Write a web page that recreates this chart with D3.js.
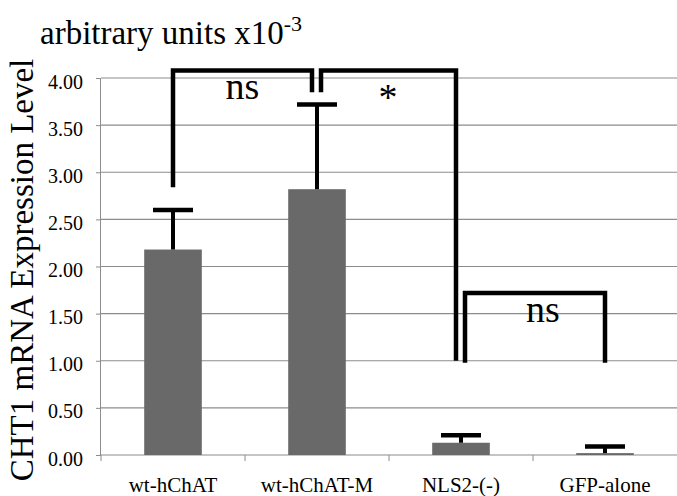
<!DOCTYPE html>
<html>
<head>
<meta charset="utf-8">
<script src="https://cdn.jsdelivr.net/npm/d3@7"></script>
<style>
  body { margin: 0; background: #fff; }
</style>
</head>
<body>
<div id="chart"></div>
<script>
// data
var categories = ["wt-hChAT", "wt-hChAT-M", "NLS2-(-)", "GFP-alone"];
var means = [2.18, 2.82, 0.13, 0.02];
var errors = [0.42, 0.90, 0.08, 0.07];
var yTicks = [0, 0.5, 1, 1.5, 2, 2.5, 3, 3.5, 4];

// significance brackets: from/to category, foot heights, top height, label
var bracketFrom = [0, 1, 2];
var bracketTo = [1, 2, 3];
var bracketLeftFoot = [2.84, 3.85, 0.98];
var bracketRightFoot = [3.85, 1.0, 0.98];
var bracketTop = [4.08, 4.08, 1.72];
var bracketLabels = ["ns", "*", "ns"];

var serif = "font-family:'Liberation Serif','Times New Roman',serif";

var svgWidth = 677;
var svgHeight = 496;
var margin = { top: 78, right: 0, bottom: 41, left: 101 };
var width = svgWidth - margin.left - margin.right;
var height = svgHeight - margin.top - margin.bottom;

var svg = d3.select("#chart")
  .append("svg")
  .attr("width", svgWidth)
  .attr("height", svgHeight);

var chartGroup = svg.append("g")
  .attr("transform", `translate(${margin.left}, ${margin.top})`);

var xScale = d3.scaleBand()
  .domain(categories)
  .range([0, width])
  .paddingInner(0.6)
  .paddingOuter(0.3);

var xBand = d3.scaleBand().domain(categories).range([0, width]);

var yScale = d3.scaleLinear()
  .domain([0, 4])
  .range([height, 0]);

// gridlines
chartGroup.selectAll(".grid")
  .data(yTicks.filter(d => d > 0))
  .enter()
  .append("line")
  .attr("x1", 0)
  .attr("x2", width)
  .attr("y1", d => yScale(d))
  .attr("y2", d => yScale(d))
  .attr("stroke", "#8c8c8c")
  .attr("stroke-width", 1.2);

// y axis
var leftAxis = d3.axisLeft(yScale)
  .tickValues(yTicks)
  .tickFormat(d3.format(".2f"))
  .tickSize(5)
  .tickPadding(13);

var yAxis = chartGroup.append("g").call(leftAxis);
yAxis.select(".domain").attr("stroke", "#8c8c8c").attr("d", `M-0.5,${height}V0`);
yAxis.selectAll(".tick line").attr("stroke", "#8c8c8c");
yAxis.selectAll("text")
  .attr("style", serif + ";font-size:20px")
  .attr("dy", "0.5em")
  .attr("fill", "#000");

// x axis
chartGroup.append("line")
  .attr("x1", 0).attr("x2", width)
  .attr("y1", height).attr("y2", height)
  .attr("stroke", "#8c8c8c")
  .attr("stroke-width", 1.2);

chartGroup.selectAll(".xtick")
  .data(categories)
  .enter()
  .append("line")
  .attr("x1", d => xBand(d))
  .attr("x2", d => xBand(d))
  .attr("y1", height)
  .attr("y2", height + 6)
  .attr("stroke", "#8c8c8c");

chartGroup.selectAll(".xlabel")
  .data(categories)
  .enter()
  .append("text")
  .attr("x", d => xBand(d) + xBand.bandwidth() / 2)
  .attr("y", height + 37)
  .attr("text-anchor", "middle")
  .attr("style", serif + ";font-size:21px")
  .text(d => d);

// bars
chartGroup.selectAll(".bar")
  .data(categories)
  .enter()
  .append("rect")
  .attr("x", d => xScale(d))
  .attr("width", xScale.bandwidth())
  .attr("y", (d, i) => yScale(means[i]))
  .attr("height", (d, i) => height - yScale(means[i]))
  .attr("fill", "#696969");

// error bars
var cx = d => xBand(d) + xBand.bandwidth() / 2;

chartGroup.selectAll(".err")
  .data(categories)
  .enter()
  .append("line")
  .attr("x1", cx).attr("x2", cx)
  .attr("y1", (d, i) => yScale(means[i]))
  .attr("y2", (d, i) => yScale(means[i] + errors[i]))
  .attr("stroke", "#000")
  .attr("stroke-width", 4);

chartGroup.selectAll(".cap")
  .data(categories)
  .enter()
  .append("line")
  .attr("x1", d => cx(d) - 20).attr("x2", d => cx(d) + 20)
  .attr("y1", (d, i) => yScale(means[i] + errors[i]))
  .attr("y2", (d, i) => yScale(means[i] + errors[i]))
  .attr("stroke", "#000")
  .attr("stroke-width", 4.5);

// brackets
var bracketData = bracketFrom.map((f, i) => ({
  x1: cx(categories[f]) + (i === 0 ? 0 : 4),
  x2: cx(categories[bracketTo[i]]) + (i === 2 ? 0 : -5),
  y1: bracketLeftFoot[i],
  y2: bracketRightFoot[i],
  top: bracketTop[i],
  label: bracketLabels[i]
}));

chartGroup.selectAll(".bracket")
  .data(bracketData)
  .enter()
  .append("path")
  .attr("d", d => `M${d.x1},${yScale(d.y1)}V${yScale(d.top)}H${d.x2}V${yScale(d.y2)}`)
  .attr("fill", "none")
  .attr("stroke", "#000")
  .attr("stroke-width", 4.5);

// label offsets inside each bracket
var sigDx = [0, 67, 8];
var sigDy = [29, 40, 29];

chartGroup.selectAll(".sig")
  .data(bracketData)
  .enter()
  .append("text")
  .attr("x", (d, i) => i === 1 ? d.x1 + sigDx[i] : (d.x1 + d.x2) / 2 + sigDx[i])
  .attr("y", (d, i) => yScale(d.top) + sigDy[i])
  .attr("text-anchor", "middle")
  .attr("style", serif + ";font-size:38px")
  .text(d => d.label);

// title
var title = svg.append("text")
  .attr("x", 40)
  .attr("y", 44)
  .attr("style", serif + ";font-size:33px");
title.append("tspan").text("arbitrary units x10");
title.append("tspan")
  .attr("dy", -13)
  .attr("style", serif + ";font-size:22px")
  .text("-3");

// y label
svg.append("text")
  .attr("transform", "translate(33, 270) rotate(-90)")
  .attr("text-anchor", "middle")
  .attr("style", serif + ";font-size:33px")
  .text("CHT1 mRNA Expression Level");
</script>
</body>
</html>
